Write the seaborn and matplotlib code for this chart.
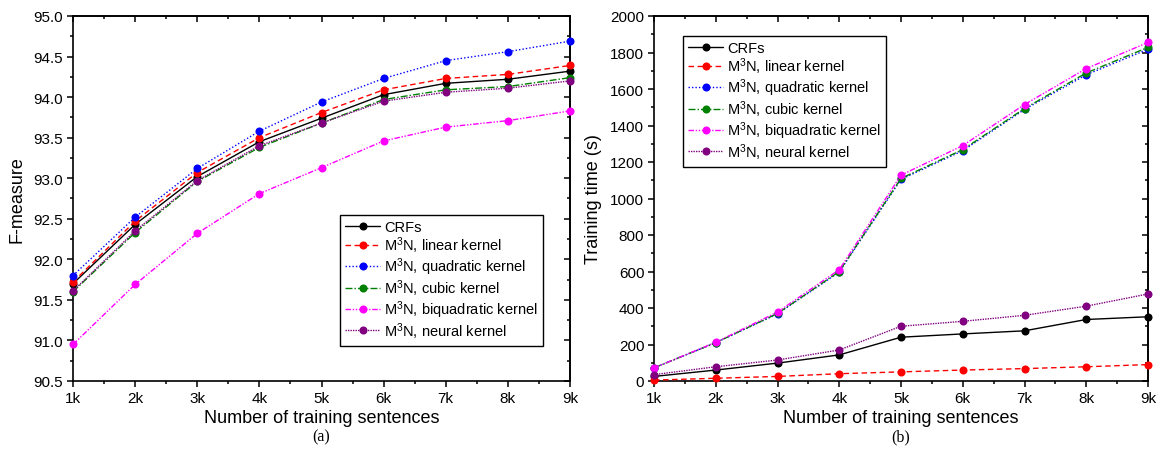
import numpy as np
import pandas as pd
import matplotlib
matplotlib.use("Agg")
import matplotlib.pyplot as plt
import seaborn as sns
from matplotlib.ticker import MultipleLocator, FormatStrFormatter

sns.set_theme(style="white")
plt.rcParams['font.family'] = ['Liberation Sans', 'DejaVu Sans']
plt.rcParams['mathtext.default'] = 'regular'
plt.rcParams['text.color'] = 'black'
plt.rcParams['axes.labelcolor'] = 'black'
plt.rcParams['xtick.color'] = 'black'
plt.rcParams['ytick.color'] = 'black'

x_vals = [1, 2, 3, 4, 5, 6, 7, 8, 9]
x_labels = ["1k", "2k", "3k", "4k", "5k", "6k", "7k", "8k", "9k"]

series_names = ["CRFs", "M$^3$N, linear kernel", "M$^3$N, quadratic kernel",
                "M$^3$N, cubic kernel", "M$^3$N, biquadratic kernel", "M$^3$N, neural kernel"]

f_crfs = [91.70, 92.43, 93.02, 93.45, 93.74, 94.03, 94.17, 94.22, 94.32]
f_linear = [91.72, 92.47, 93.07, 93.50, 93.81, 94.09, 94.23, 94.28, 94.39]
f_quadratic = [91.80, 92.52, 93.12, 93.58, 93.94, 94.23, 94.45, 94.56, 94.69]
f_cubic = [91.60, 92.33, 92.96, 93.38, 93.68, 93.97, 94.09, 94.13, 94.24]
f_biquadratic = [90.95, 91.69, 92.32, 92.81, 93.13, 93.46, 93.63, 93.71, 93.83]
f_neural = [91.61, 92.35, 92.97, 93.40, 93.68, 93.95, 94.06, 94.11, 94.20]

t_crfs = [25, 60, 98, 143, 240, 258, 275, 337, 352]
t_linear = [5, 15, 25, 40, 50, 60, 68, 78, 90]
t_quadratic = [72, 210, 368, 597, 1105, 1262, 1488, 1678, 1818]
t_cubic = [72, 210, 370, 600, 1110, 1268, 1493, 1688, 1828]
t_biquadratic = [72, 212, 378, 610, 1128, 1290, 1515, 1712, 1855]
t_neural = [35, 78, 115, 170, 300, 327, 360, 410, 477]

colors = ["#000000", "#FF0000", "#0000FF", "#008000", "#FF00FF", "#800080"]
dashes = ["-", (0, (4, 2.5)), (0, (1, 1.5)), (0, (5, 1.5, 1, 1.5)),
          (0, (4, 1.2, 1, 1.2, 1, 1.2)), (0, (1, 0.8))]

f_data = [f_crfs, f_linear, f_quadratic, f_cubic, f_biquadratic, f_neural]
t_data = [t_crfs, t_linear, t_quadratic, t_cubic, t_biquadratic, t_neural]

fig = plt.figure(figsize=(11.62, 4.52), dpi=100)
ax1 = fig.add_axes([73/1162, 1-382/452, (570-73)/1162, (382-17)/452])
ax2 = fig.add_axes([654/1162, 1-382/452, (1148-654)/1162, (382-17)/452])


def draw(ax, data):
    for name, vals, c, ls in zip(series_names, data, colors, dashes):
        df = pd.DataFrame({"x": x_vals, "y": vals})
        sns.lineplot(data=df, x="x", y="y", ax=ax, color=c, linestyle=ls,
                     linewidth=1.0, marker="o", markersize=5.8, markeredgewidth=0,
                     label=name, clip_on=False, zorder=3)


draw(ax1, f_data)
draw(ax2, t_data)


def style_ticks(ax, ymaj, ymin):
    ax.set_xlim(1, 9)
    ax.set_xticks(x_vals)
    ax.set_xticklabels(x_labels)
    ax.xaxis.set_minor_locator(MultipleLocator(0.5))
    ax.yaxis.set_major_locator(MultipleLocator(ymaj))
    ax.yaxis.set_minor_locator(MultipleLocator(ymin))
    ax.tick_params(axis="both", which="both", direction="out", top=False, right=False,
                   bottom=True, left=True, colors="black", labelsize=11, pad=3)
    ax.tick_params(which="major", length=4, width=1.1)
    ax.tick_params(which="minor", length=2.5, width=1.1)
    # mirrored inward ticks on top and right
    top = ax.secondary_xaxis("top")
    top.set_xticks(x_vals)
    top.xaxis.set_minor_locator(MultipleLocator(0.5))
    top.tick_params(which="both", direction="in", labeltop=False, width=1.1, colors="black")
    top.tick_params(which="major", length=4)
    top.tick_params(which="minor", length=2.5)
    right = ax.secondary_yaxis("right")
    right.yaxis.set_major_locator(MultipleLocator(ymaj))
    right.yaxis.set_minor_locator(MultipleLocator(ymin))
    right.tick_params(which="both", direction="in", labelright=False, width=1.1, colors="black")
    right.tick_params(which="major", length=4)
    right.tick_params(which="minor", length=2.5)
    for a in (ax, top, right):
        for s in a.spines.values():
            s.set_color("black")
            s.set_linewidth(1.2)
    ax.set_xlabel("Number of training sentences", fontsize=13, labelpad=3, color="black")
    ax.grid(False)


ax1.set_ylim(90.5, 95.0)
ax2.set_ylim(0, 2000)
style_ticks(ax1, 0.5, 0.25)
style_ticks(ax2, 200, 100)
ax1.yaxis.set_major_formatter(FormatStrFormatter("%.1f"))
ax1.set_ylabel("F-measure", fontsize=13, labelpad=6, color="black")
ax2.set_ylabel("Training time (s)", fontsize=13, labelpad=6, color="black")

leg_kw = dict(fontsize=10.5, frameon=True, fancybox=False, handlelength=2.4,
              handletextpad=0.3, borderpad=0.35, labelspacing=0.02, borderaxespad=0)
l1 = ax1.legend(loc="upper left", bbox_to_anchor=((340-73)/497, 1-(216-17)/365), **leg_kw)
l2 = ax2.legend(loc="upper left", bbox_to_anchor=((683-654)/494, 1-(37-17)/365), **leg_kw)
for l in (l1, l2):
    fr = l.get_frame()
    fr.set_edgecolor("black")
    fr.set_linewidth(1.0)
    fr.set_alpha(1)
    for t in l.get_texts():
        t.set_color("black")

fig.text((73+570)/2/1162, 1-437/452, "(a)", ha="center", va="center",
         family="Liberation Serif", fontsize=11.5, color="black")
fig.text((654+1148)/2/1162, 1-437/452, "(b)", ha="center", va="center",
         family="Liberation Serif", fontsize=11.5, color="black")

fig.savefig("out.png", dpi=100, facecolor="white")
